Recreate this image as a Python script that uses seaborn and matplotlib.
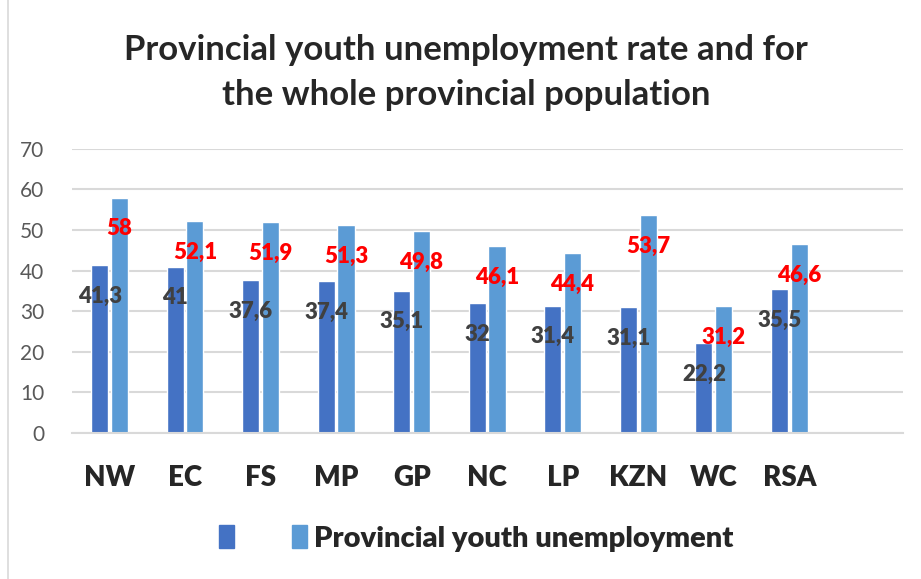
import pandas as pd
import matplotlib.pyplot as plt
import seaborn as sns
from matplotlib.patches import Patch
from matplotlib.lines import Line2D

# Dati
provinces = ['NW', 'EC', 'FS', 'MP', 'GP', 'NC', 'LP', 'KZN', 'WC', 'RSA']
youth_rate = [41.3, 41, 37.6, 37.4, 35.1, 32, 31.4, 31.1, 22.2, 35.5]
total_rate = [58, 52.1, 51.9, 51.3, 49.8, 46.1, 44.4, 53.7, 31.2, 46.6]
series_names = ['Youth', 'Provincial youth unemployment']
colors = ['#4472C4', '#5B9BD5']

df = pd.DataFrame({
    'province': provinces * 2,
    'rate': youth_rate + total_rate,
    'series': [series_names[0]] * len(provinces) + [series_names[1]] * len(provinces),
})

sns.set_style('white')
plt.rcParams['font.family'] = ['Lato', 'DejaVu Sans']

fig = plt.figure(figsize=(9.21, 5.79), dpi=100)
ax = fig.add_axes([0.078, 0.252, 0.902, 0.491])

sns.barplot(data=df, x='province', y='rate', hue='series', order=provinces,
            palette=colors, width=0.52, gap=0.13, legend=False, ax=ax,
            saturation=1)

ax.set_xlim(-0.5, 10.5)
ax.set_ylim(0, 70)
ax.set_yticks(range(0, 71, 10))
ax.yaxis.grid(True, color='#D9D9D9', linewidth=1.5)
ax.set_axisbelow(True)
for s in ['top', 'right', 'left']:
    ax.spines[s].set_visible(False)
ax.spines['bottom'].set_color('#D9D9D9')
ax.spines['bottom'].set_linewidth(1.5)
ax.tick_params(axis='y', length=0, labelsize=15, labelcolor='#595959', pad=20)
ax.tick_params(axis='x', length=0, labelsize=20, pad=23)
ax.set_xlabel('')
ax.set_ylabel('')

# Etichette dei valori
label_colors = ['#404040', '#FF0000']
for cont, lc in zip(ax.containers, label_colors):
    labels = ['{:g}'.format(v).replace('.', ',') for v in cont.datavalues]
    ax.bar_label(cont, labels=labels, label_type='edge', padding=-30,
                 color=lc, fontsize=16, fontweight='heavy')

fig.text(0.506, 0.875, 'Provincial youth unemployment rate and for\nthe whole provincial population',
         ha='center', va='center', fontsize=25, fontweight='bold', linespacing=1.5)

handles = [Patch(color=colors[0]), Patch(color=colors[1])]
fig.legend(handles, ['', series_names[1]], loc='center', bbox_to_anchor=(0.517, 0.07),
           ncol=2, frameon=False, handlelength=0.5, handleheight=0.8,
           handletextpad=0.25, columnspacing=1.75, prop={'weight': 'heavy', 'size': 21})

fig.add_artist(Line2D([0.009, 0.009], [0, 1], color='#D9D9D9', linewidth=1.2))

for t in ax.get_xticklabels():
    t.set_fontweight('heavy')

plt.savefig('out.png', dpi=100)
